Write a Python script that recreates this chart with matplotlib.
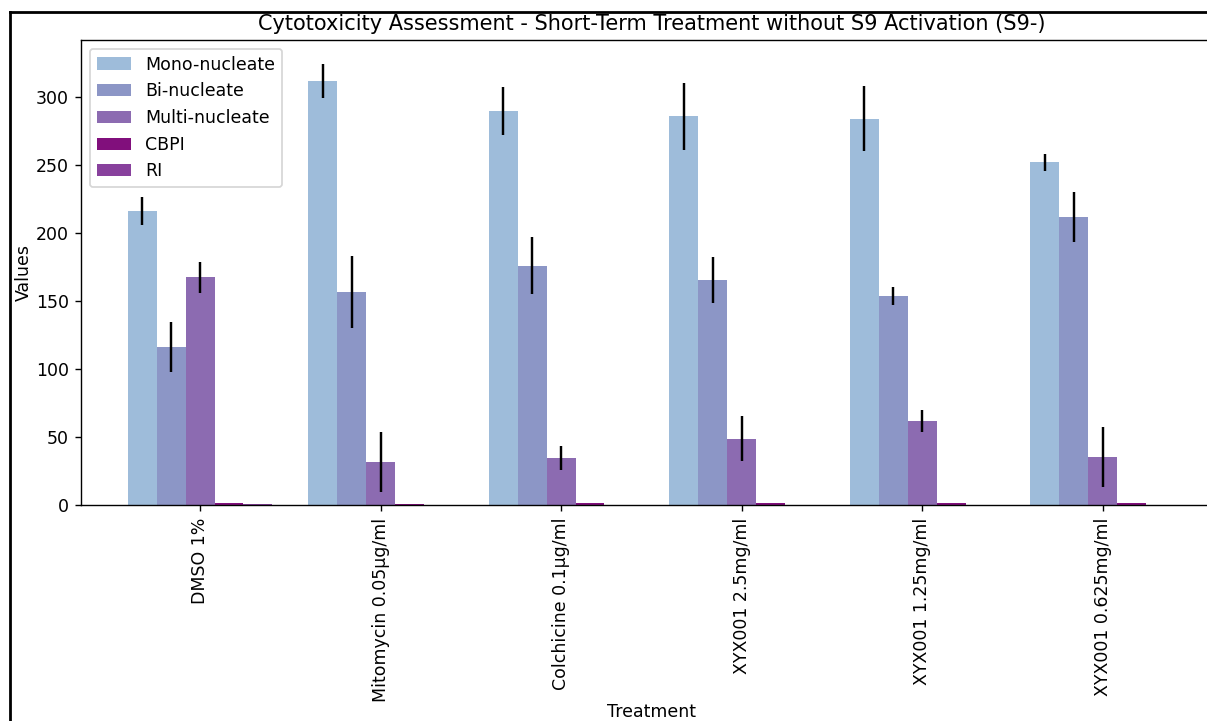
import numpy as np
import matplotlib
matplotlib.use("Agg")
import matplotlib.pyplot as plt
from matplotlib.lines import Line2D

# Micronucleus assay counts per treatment (mean of replicates, 500 cells scored)
treatments = ["DMSO 1%", "Mitomycin 0.05μg/ml", "Colchicine 0.1μg/ml",
              "XYX001 2.5mg/ml", "XYX001 1.25mg/ml", "XYX001 0.625mg/ml"]
mono = [216.2, 311.5, 289.5, 285.6, 283.9, 252.0]
bi = [116.4, 156.7, 175.8, 165.5, 153.8, 212.0]
multi = [167.5, 32.0, 34.7, 49.0, 62.3, 35.7]
cbpi = [1.90, 1.44, 1.49, 1.53, 1.56, 1.57]
ri = [1.00, 0.49, 0.54, 0.58, 0.62, 0.63]

mono_sd = [10.4, 12.5, 17.4, 24.7, 24.0, 6.2]
bi_sd = [18.6, 26.6, 20.9, 16.7, 6.5, 18.3]
multi_sd = [11.4, 21.8, 8.6, 16.5, 8.0, 22.0]

series = [
    ("Mono-nucleate", mono, mono_sd, "#9ebcda"),
    ("Bi-nucleate", bi, bi_sd, "#8c96c6"),
    ("Multi-nucleate", multi, multi_sd, "#8c6bb1"),
    ("CBPI", cbpi, None, "#810f7c"),
    ("RI", ri, None, "#88419d"),
]

DPI = 125
fig = plt.figure(figsize=(1207 / DPI, 721 / DPI), dpi=DPI)
ax = fig.add_axes([0.0671, 0.2989, 0.9452, 0.6456])

x = np.arange(len(treatments))
width = 0.8 / len(series)
for i, (name, vals, err, color) in enumerate(series):
    offset = (i - (len(series) - 1) / 2) * width
    ax.bar(x + offset, vals, width, color=color, label=name)
    if err is not None:
        ax.errorbar(x + offset, vals, yerr=err, fmt="none", ecolor="black",
                    elinewidth=1.4, capsize=0)

ax.set_xlim(-0.66, len(treatments) - 1 + 0.66)
ax.set_ylim(0, 341.6)
ax.set_xticks(x)
ax.set_xticklabels(treatments, rotation=90)
ax.set_yticks(np.arange(0, 301, 50))
ax.set_xlabel("Treatment", labelpad=0.5)
ax.set_ylabel("Values", labelpad=2)
ax.set_title("Cytotoxicity Assessment - Short-Term Treatment without S9 Activation (S9-)",
             fontsize=12)
ax.legend(loc="upper left")

# outer frame of the output cell
fig.add_artist(Line2D([10 / 1207, 10 / 1207], [0, 1 - 12 / 721],
                      transform=fig.transFigure, color="black", lw=1.6))
fig.add_artist(Line2D([10 / 1207, 1], [1 - 12 / 721, 1 - 12 / 721],
                      transform=fig.transFigure, color="black", lw=1.6))

fig.savefig("out.png", dpi=DPI)
